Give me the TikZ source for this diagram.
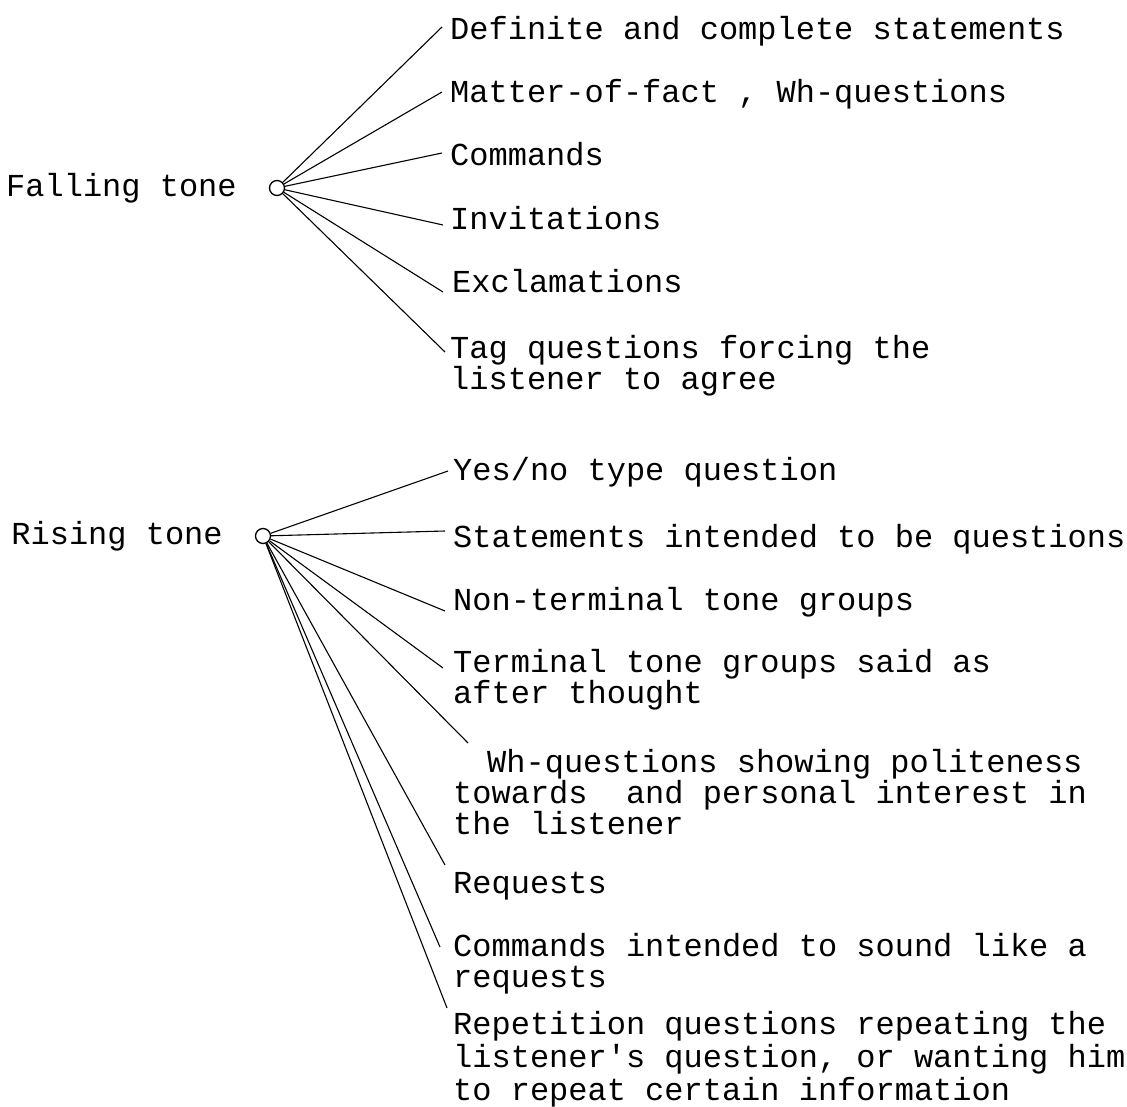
\documentclass[tikz,border=0pt]{standalone}
\usepackage{fontspec}
\setmonofont{Liberation Mono}
\usepackage{tikz}
\usetikzlibrary{shapes,arrows,positioning}
\newcommand{\tonefont}{\ttfamily\fontsize{32}{31}\selectfont}
\tikzstyle{item} = [anchor=base west, inner sep=0pt, align=left, font=\tonefont]
\tikzstyle{tone} = [inner sep=0pt, font=\tonefont]
\tikzstyle{hub} = [circle, draw, line width=1.3pt, minimum size=15pt, inner sep=0pt]
\tikzstyle{line} = [draw, line width=1.1pt]

\begin{document}
\begin{tikzpicture}[x=1pt, y=-1pt, node distance = 32pt, auto]
    \useasboundingbox (0,0) rectangle (1127,1107);
    % Place nodes (multi-line texts sit on their last baseline)
    \node [hub] (fallhub) at (277,188) {};
    \node [tone, left=of fallhub] (fall) {Falling tone};
    \node [item] (dfn) at (450,40) {Definite and complete statements};
    \node [item] (mat) at (450,103) {Matter-of-fact , Wh-questions};
    \node [item] (com) at (450,166) {Commands};
    \node [item] (inv) at (450,230) {Invitations};
    \node [item] (exc) at (452,293) {Exclamations};
    \node [item] (tag) at (450,389) {Tag questions forcing the\\listener to agree};

    \node [hub] (risehub) at (263,536) {};
    \node [tone, left=of risehub] (rise) {Rising tone};
    \node [item] (yes) at (453,480) {Yes/no type question};
    \node [item] (stm) at (453,547) {Statements intended to be questions};
    \node [item] (ntg) at (453,610) {Non-terminal tone groups};
    \node [item] (ttg) at (453,703) {Terminal tone groups said as\\after thought};
    \node [item] (wh) at (453,834) {\hspace*{34pt}Wh-questions showing politeness\\towards\ \ and personal interest in\\the listener};
    \node [item] (req) at (453,893) {Requests};
    \node [item] (cmi) at (453,987) {Commands intended to sound like a\\requests};
    \node [item, font=\ttfamily\fontsize{32}{33}\selectfont] (rep) at (453,1100) {Repetition questions repeating the\\listener's question, or wanting him\\to repeat certain information};

    % Draw edges
    \path [line] (fallhub) -- ([shift={(-8pt,13pt)}]dfn.base west);
    \path [line] (fallhub) -- ([shift={(-8pt,11pt)}]mat.base west);
    \path [line] (fallhub) -- ([shift={(-8pt,13pt)}]com.base west);
    \path [line] (fallhub) -- ([shift={(-7pt,5pt)}]inv.base west);
    \path [line] (fallhub) -- ([shift={(-9pt,1pt)}]exc.base west);
    \path [line] (fallhub) -- ([shift={(-5pt,37pt)}]tag.base west);

    \path [line] (risehub) -- ([shift={(-5pt,9pt)}]yes.base west);
    \path [line] (risehub) -- ([shift={(-8pt,16pt)}]stm.base west);
    \path [line] (risehub) -- ([shift={(-8pt,-1pt)}]ntg.base west);
    \path [line] (risehub) -- ([shift={(-10pt,35pt)}]ttg.base west);
    \path [line] (risehub) -- ([shift={(15pt,91pt)}]wh.base west);
    \path [line] (risehub) -- ([shift={(-8pt,28pt)}]req.base west);
    \path [line] (risehub) -- ([shift={(-13pt,40pt)}]cmi.base west);
    \path [line] (risehub) -- ([shift={(-6pt,92pt)}]rep.base west);

\end{tikzpicture}
\end{document}
